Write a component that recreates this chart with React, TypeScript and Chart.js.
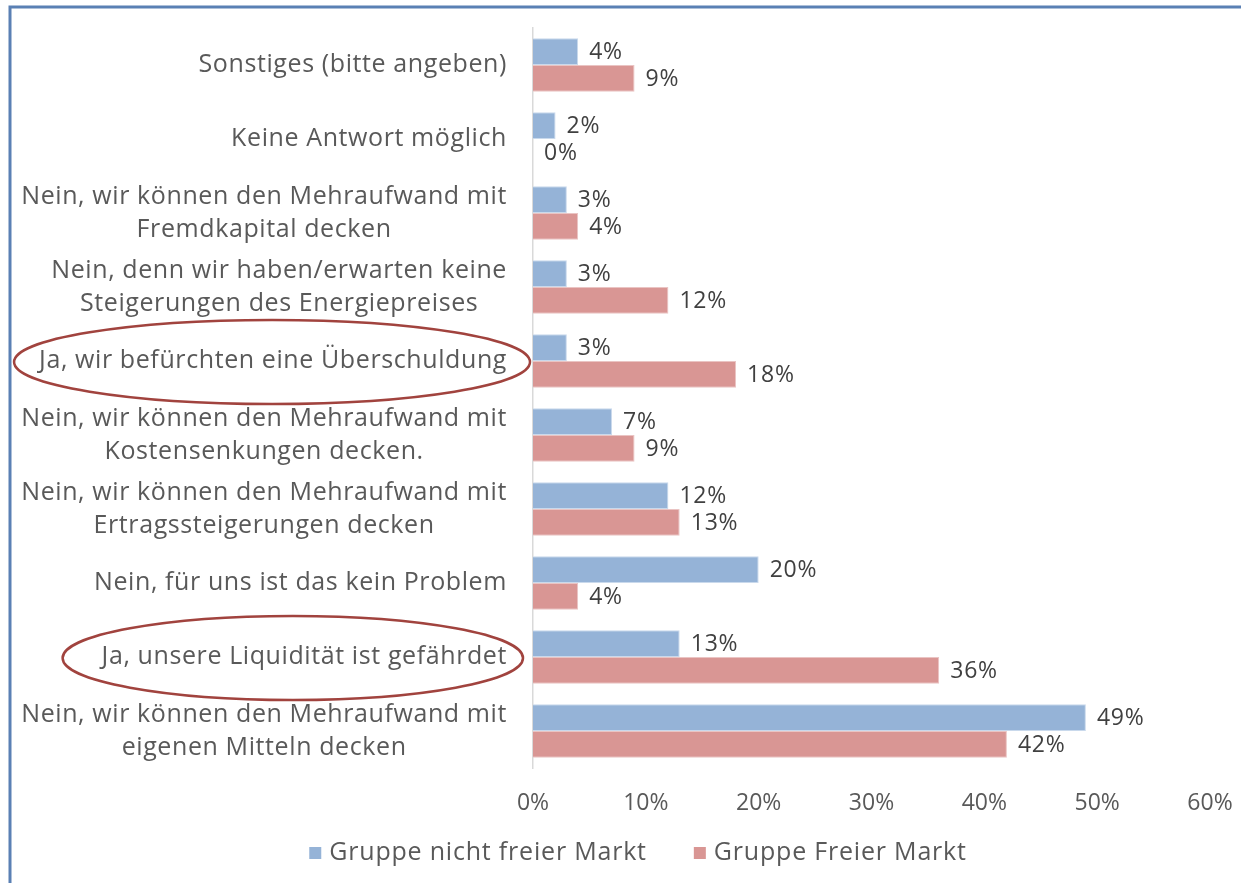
import React, { useEffect, useRef } from "react";
import { Chart, registerables } from "chart.js";

Chart.register(...registerables);

const categories: (string | string[])[] = [
  "Sonstiges (bitte angeben)",
  "Keine Antwort möglich",
  ["Nein, wir können den Mehraufwand mit", "Fremdkapital decken"],
  ["Nein, denn wir haben/erwarten keine", "Steigerungen des Energiepreises"],
  "Ja, wir befürchten eine Überschuldung",
  ["Nein, wir können den Mehraufwand mit", "Kostensenkungen decken."],
  ["Nein, wir können den Mehraufwand mit", "Ertragssteigerungen decken"],
  "Nein, für uns ist das kein Problem",
  "Ja, unsere Liquidität ist gefährdet",
  ["Nein, wir können den Mehraufwand mit", "eigenen Mitteln decken"],
];

const nichtFreierMarkt = [4, 2, 3, 3, 3, 7, 12, 20, 13, 49];
const freierMarkt = [9, 0, 4, 12, 18, 9, 13, 4, 36, 42];

const seriesNames = ["Gruppe nicht freier Markt", "Gruppe Freier Markt"];
const seriesColors = ["#95B3D7", "#D99694"];
const seriesBorders = ["#C9D9EC", "#EAC4C3"];
const xTicks = [0, 10, 20, 30, 40, 50, 60];

// indices of the categories circled in the original
const highlighted = [
  { index: 4, padL: 25, padR: 23 },
  { index: 8, padL: 39, padR: 16 },
];

const FONT = "'Open Sans', Lato, sans-serif";
const LABEL_SIZE = 25;
const LINE_H = 33;

const framePlugin = {
  id: "frame",
  beforeDraw(chart: any) {
    const ctx = chart.ctx;
    ctx.save();
    ctx.fillStyle = "#ffffff";
    ctx.fillRect(0, 0, chart.width, chart.height);
    ctx.strokeStyle = "#5A80B4";
    ctx.lineWidth = 3;
    ctx.beginPath();
    ctx.moveTo(10, chart.height);
    ctx.lineTo(10, 7);
    ctx.lineTo(chart.width, 7);
    ctx.stroke();
    ctx.restore();
  },
};

const labelsPlugin = {
  id: "catLabels",
  afterDraw(chart: any) {
    const ctx = chart.ctx;
    const y = chart.scales.y;
    const right = chart.chartArea.left - 26;
    ctx.save();
    ctx.font = `${LABEL_SIZE}px ${FONT}`;
    (ctx as any).letterSpacing = "0.6px";
    ctx.fillStyle = "#595959";
    ctx.textAlign = "center";
    ctx.textBaseline = "middle";
    const blocks: any[] = [];
    categories.forEach((c, i) => {
      const lines = Array.isArray(c) ? c : [c];
      const w = Math.max(...lines.map((l) => ctx.measureText(l).width));
      const cx = right - w / 2;
      const cy = y.getPixelForValue(i);
      const top = cy - ((lines.length - 1) * LINE_H) / 2;
      lines.forEach((l, k) => ctx.fillText(l, cx, top + k * LINE_H));
      blocks[i] = { left: right - w, right, cy };
    });
    // ellipses
    ctx.strokeStyle = "#A1433E";
    ctx.lineWidth = 2.5;
    highlighted.forEach((h) => {
      const b = blocks[h.index];
      const l = b.left - h.padL;
      const r = b.right + h.padR;
      ctx.beginPath();
      ctx.ellipse((l + r) / 2, b.cy + 1, (r - l) / 2, 42, 0, 0, Math.PI * 2);
      ctx.stroke();
    });

    // legend
    ctx.font = `25px ${FONT}`;
    (ctx as any).letterSpacing = "0.8px";
    ctx.textAlign = "left";
    const box = 12;
    const gapText = 8;
    const gapItem = 47;
    const widths = seriesNames.map((n) => ctx.measureText(n).width);
    const total =
      widths.reduce((a, w) => a + box + gapText + w, 0) + gapItem * (seriesNames.length - 1);
    let x = 638 - total / 2;
    const ly = 853;
    seriesNames.forEach((n, i) => {
      ctx.fillStyle = seriesColors[i];
      ctx.fillRect(x, ly - box / 2, box, box);
      x += box + gapText;
      ctx.fillStyle = "#595959";
      ctx.fillText(n, x, ly);
      x += widths[i] + gapItem;
    });
    ctx.restore();
  },
};

const valuePlugin = {
  id: "valueLabels",
  afterDatasetsDraw(chart: any) {
    const ctx = chart.ctx;
    ctx.save();
    ctx.font = `23px ${FONT}`;
    (ctx as any).letterSpacing = "0.8px";
    ctx.fillStyle = "#404040";
    ctx.textAlign = "left";
    ctx.textBaseline = "middle";
    chart.data.datasets.forEach((ds: any, di: number) => {
      const meta = chart.getDatasetMeta(di);
      meta.data.forEach((bar: any, i: number) => {
        ctx.fillText(`${ds.data[i]}%`, bar.x + 11, bar.y + 1);
      });
    });
    ctx.restore();
  },
};

export default function App() {
  const ref = useRef<HTMLCanvasElement>(null);
  useEffect(() => {
    document.body.style.margin = "0";
    const chart = new Chart(ref.current!, {
      type: "bar",
      data: {
        labels: categories as any,
        datasets: [
          {
            label: seriesNames[0],
            data: nichtFreierMarkt,
            backgroundColor: seriesColors[0],
            borderColor: seriesBorders[0],
            borderWidth: 1,
          },
          {
            label: seriesNames[1],
            data: freierMarkt,
            backgroundColor: seriesColors[1],
            borderColor: seriesBorders[1],
            borderWidth: 1,
          },
        ],
      },
      options: {
        indexAxis: "y",
        responsive: false,
        animation: false,
        layout: { padding: { top: 28, right: 31, bottom: 51, left: 66 } },
        datasets: { bar: { categoryPercentage: 0.72, barPercentage: 1.0 } },
        scales: {
          x: {
            min: 0,
            max: 60,
            afterBuildTicks(scale: any) {
              scale.ticks = xTicks.map((v) => ({ value: v }));
            },
            afterFit(scale: any) {
              scale.height = 64;
              scale.paddingLeft = 0;
              scale.paddingRight = 0;
            },
            grid: { display: false, drawTicks: false },
            border: { display: false },
            ticks: {
              padding: 22,
              color: "#595959",
              font: { family: FONT, size: 23 },
              callback: (v: any) => `${v}%`,
            },
          },
          y: {
            afterFit(scale: any) {
              scale.width = 533 - 66;
              scale.paddingTop = 0;
              scale.paddingBottom = 0;
            },
            grid: { display: false, drawTicks: false },
            border: { display: true, color: "#D9D9D9", width: 1.5 },
            ticks: { display: false },
          },
        },
        plugins: {
          legend: { display: false },
          tooltip: { enabled: false },
        },
      },
      plugins: [framePlugin, labelsPlugin, valuePlugin],
    } as any);
    return () => chart.destroy();
  }, []);
  return (
    <div style={{ position: "absolute", left: 0, top: 0, width: 1241, height: 883 }}>
      <canvas ref={ref} width={1241} height={883} />
    </div>
  );
}
